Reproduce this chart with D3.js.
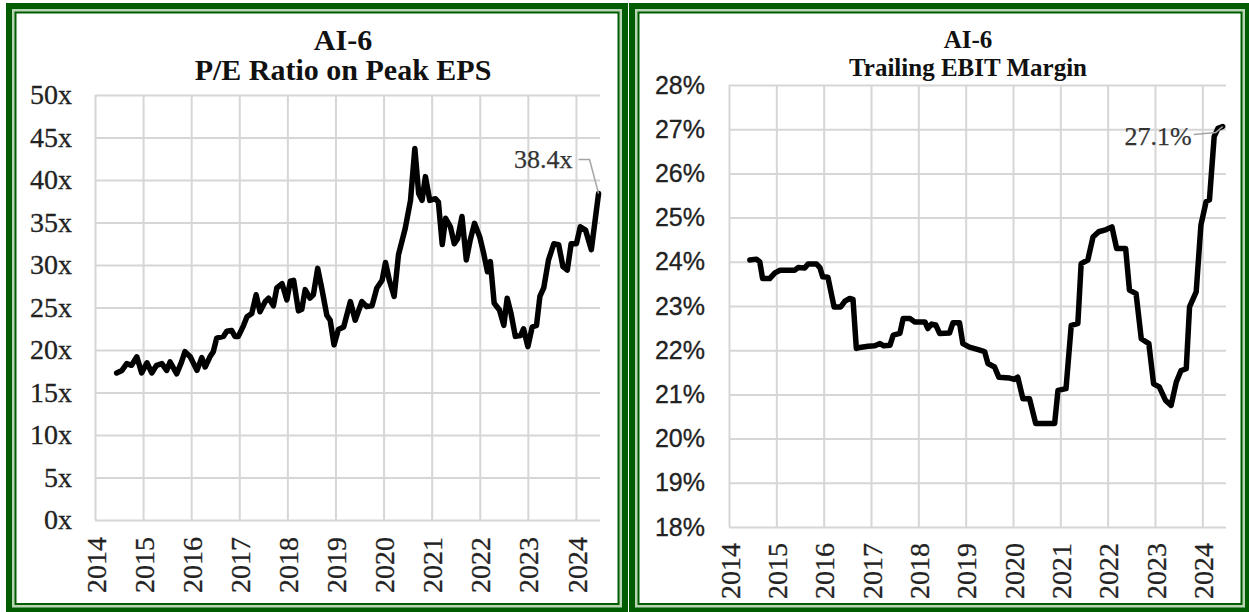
<!DOCTYPE html>
<html>
<head>
<meta charset="utf-8">
<script src="https://cdn.jsdelivr.net/npm/d3@7"></script>
<style>
  body { margin: 0; background: #fff; }
  svg { display: block; }
</style>
</head>
<body>
<div id="chart"></div>
<script>
// P/E ratio on peak EPS (left panel)
const peYears = [
  2014.45, 2014.56, 2014.66, 2014.76, 2014.87, 2014.97, 2015.08, 2015.18, 2015.28, 2015.39,
  2015.49, 2015.56, 2015.70, 2015.80, 2015.87, 2015.98, 2016.12, 2016.22, 2016.29, 2016.39,
  2016.46, 2016.53, 2016.67, 2016.74, 2016.84, 2016.91, 2016.98, 2017.09, 2017.16, 2017.26,
  2017.35, 2017.43, 2017.54, 2017.61, 2017.71, 2017.78, 2017.89, 2017.99, 2018.06, 2018.13,
  2018.23, 2018.30, 2018.37, 2018.47, 2018.54, 2018.63, 2018.72, 2018.82, 2018.89, 2018.97,
  2019.06, 2019.17, 2019.31, 2019.41, 2019.55, 2019.65, 2019.76, 2019.86, 2019.97, 2020.04,
  2020.12, 2020.22, 2020.31, 2020.45, 2020.56, 2020.65, 2020.73, 2020.80, 2020.87, 2020.96,
  2021.08, 2021.14, 2021.22, 2021.29, 2021.39, 2021.47, 2021.54, 2021.63, 2021.72, 2021.80,
  2021.89, 2022.00, 2022.08, 2022.16, 2022.22, 2022.30, 2022.41, 2022.50, 2022.57, 2022.65,
  2022.74, 2022.85, 2022.91, 2023.00, 2023.09, 2023.18, 2023.25, 2023.33, 2023.43, 2023.54,
  2023.64, 2023.73, 2023.82, 2023.90, 2024.01, 2024.09, 2024.20, 2024.32, 2024.47
];
const peValues = [
  17.3, 17.6, 18.4, 18.2, 19.2, 17.3, 18.5, 17.3, 18.2, 18.4,
  17.6, 18.6, 17.2, 18.6, 19.8, 19.2, 17.6, 19.1, 18.0, 19.2,
  19.8, 21.4, 21.6, 22.2, 22.3, 21.6, 21.6, 22.9, 23.9, 24.3,
  26.5, 24.5, 25.7, 26.1, 25.2, 27.3, 27.8, 25.9, 28.1, 28.2,
  24.6, 24.8, 27.1, 26.1, 26.5, 29.6, 27.1, 24.1, 23.5, 20.6,
  22.4, 22.7, 25.7, 23.5, 25.7, 25.1, 25.2, 27.3, 28.2, 30.3,
  28.2, 26.3, 31.2, 34.3, 37.6, 43.7, 38.4, 37.6, 40.4, 37.6,
  37.8, 37.4, 32.4, 35.5, 34.5, 32.5, 33.1, 35.7, 30.6, 32.9,
  34.9, 33.3, 31.4, 29.2, 30.4, 25.5, 24.7, 22.9, 26.1, 24.3,
  21.6, 21.7, 22.5, 20.4, 22.7, 22.9, 26.3, 27.3, 30.6, 32.5,
  32.4, 29.8, 29.4, 32.5, 32.5, 34.5, 34.1, 31.8, 38.4
];

// trailing EBIT margin in % (right panel)
const marginYears = [
  2014.44, 2014.58, 2014.65, 2014.71, 2014.86, 2014.97, 2015.08, 2015.39, 2015.46, 2015.60,
  2015.67, 2015.85, 2015.92, 2015.98, 2016.09, 2016.22, 2016.36, 2016.45, 2016.55, 2016.62,
  2016.69, 2016.76, 2016.94, 2017.08, 2017.19, 2017.27, 2017.40, 2017.47, 2017.61, 2017.68,
  2017.82, 2017.92, 2018.14, 2018.20, 2018.28, 2018.37, 2018.45, 2018.66, 2018.73, 2018.87,
  2018.94, 2019.08, 2019.30, 2019.40, 2019.47, 2019.61, 2019.70, 2019.93, 2020.03, 2020.10,
  2020.21, 2020.35, 2020.48, 2020.88, 2020.95, 2021.12, 2021.23, 2021.37, 2021.44, 2021.58,
  2021.69, 2021.81, 2021.97, 2022.09, 2022.19, 2022.38, 2022.46, 2022.60, 2022.71, 2022.87,
  2022.97, 2023.09, 2023.22, 2023.34, 2023.45, 2023.55, 2023.66, 2023.73, 2023.87, 2023.97,
  2024.08, 2024.15, 2024.25, 2024.33, 2024.43
];
const marginValues = [
  24.04, 24.06, 24.00, 23.62, 23.62, 23.75, 23.81, 23.81, 23.87, 23.86,
  23.95, 23.95, 23.87, 23.66, 23.65, 22.98, 22.98, 23.11, 23.17, 23.15,
  22.04, 22.06, 22.09, 22.10, 22.15, 22.10, 22.11, 22.34, 22.38, 22.72,
  22.72, 22.64, 22.64, 22.49, 22.59, 22.57, 22.38, 22.39, 22.62, 22.62,
  22.15, 22.07, 22.00, 21.97, 21.70, 21.62, 21.39, 21.37, 21.34, 21.39,
  20.90, 20.90, 20.34, 20.34, 21.09, 21.13, 22.56, 22.60, 23.96, 24.04,
  24.56, 24.68, 24.73, 24.79, 24.30, 24.30, 23.36, 23.28, 22.26, 22.15,
  21.24, 21.17, 20.87, 20.75, 21.28, 21.54, 21.58, 22.98, 23.32, 24.83,
  25.36, 25.40, 26.83, 27.02, 27.06
];

const yearTicks = [2014, 2015, 2016, 2017, 2018, 2019, 2020, 2021, 2022, 2023, 2024];
const peTicks = [0, 5, 10, 15, 20, 25, 30, 35, 40, 45, 50];
const marginTicks = [18, 19, 20, 21, 22, 23, 24, 25, 26, 27, 28];

const W = 1249, H = 612;
const DARK = "#005c00", LIGHT = "#b9d5b5";
const SERIF = "'Liberation Serif', 'Times New Roman', serif";
const SANS = "'Liberation Sans', Arial, sans-serif";

const svg = d3.select("#chart").append("svg")
  .attr("width", W)
  .attr("height", H);

svg.append("rect").attr("width", W).attr("height", H).attr("fill", "#fff");

// double green frame around a panel
function drawFrame(x0, y0, x1, y1) {
  const g = svg.append("g");
  const layers = [[0, DARK], [6, LIGHT], [8.5, DARK], [10.5, "#fff"]];
  layers.forEach(([inset, color]) => {
    g.append("rect")
      .attr("x", x0 + inset).attr("y", y0 + inset)
      .attr("width", x1 - x0 - 2 * inset).attr("height", y1 - y0 - 2 * inset)
      .attr("fill", color);
  });
}

function drawPanel(p) {
  const x = d3.scaleLinear().domain([2014, 2024.5]).range([p.left, p.right]);
  const y = d3.scaleLinear().domain(p.yDomain).range([p.bottom, p.top]);
  const plotW = p.right - p.left, plotH = p.bottom - p.top;
  const g = svg.append("g");

  // horizontal grid + y labels
  const yAxis = g.append("g")
    .attr("transform", "translate(" + p.left + ",0)")
    .call(d3.axisLeft(y).tickValues(p.yTicks).tickFormat(p.yFormat)
      .tickSize(-plotW).tickPadding(p.yPad));
  yAxis.select(".domain").remove();
  yAxis.selectAll("line").attr("stroke", "#d6d6d6").attr("stroke-width", 2);
  yAxis.selectAll("text")
    .attr("font-family", p.yFont).attr("font-size", p.ySize)
    .attr("fill", "#222").attr("stroke", "#222").attr("stroke-width", 0.3);

  // vertical grid + rotated year labels
  const xAxis = g.append("g")
    .attr("transform", "translate(0," + p.bottom + ")")
    .call(d3.axisBottom(x).tickValues(yearTicks).tickFormat(d3.format("d"))
      .tickSize(-plotH));
  xAxis.select(".domain").remove();
  xAxis.selectAll("line").attr("stroke", "#d6d6d6").attr("stroke-width", 2);
  xAxis.selectAll("text")
    .attr("transform", "rotate(-90)")
    .attr("text-anchor", "end")
    .attr("x", -p.xPad).attr("y", 0).attr("dy", "0.36em")
    .attr("font-family", SERIF).attr("font-size", 28)
    .attr("fill", "#222").attr("stroke", "#222").attr("stroke-width", 0.3);

  // titles
  p.title.forEach((t, i) => {
    g.append("text")
      .attr("x", p.titleX).attr("y", p.titleY[i])
      .attr("text-anchor", "middle")
      .attr("font-family", SERIF).attr("font-weight", "bold").attr("font-size", p.titleSize)
      .attr("fill", "#111")
      .text(t);
  });

  const data = p.years.map((t, i) => ({ t: t, v: p.values[i] }));
  const line = d3.line().x(d => x(d.t)).y(d => y(d.v));

  g.append("path")
    .datum(data)
    .attr("d", line)
    .attr("fill", "none")
    .attr("stroke", "#000")
    .attr("stroke-width", 5.5)
    .attr("stroke-linejoin", "round")
    .attr("stroke-linecap", "round");

  // label on the last point with a leader line
  const last = data[data.length - 1];
  const lx = x(last.t), ly = y(last.v);
  g.append("path")
    .attr("d", d3.line()(p.leader.map(o => [lx + o[0], ly + o[1]])))
    .attr("fill", "none")
    .attr("stroke", "#a5a5a5")
    .attr("stroke-width", 1.5);
  g.append("text")
    .attr("x", lx + p.labelOff[0]).attr("y", ly + p.labelOff[1])
    .attr("text-anchor", "end")
    .attr("font-family", SERIF).attr("font-size", 26)
    .attr("fill", "#333").attr("stroke", "#333").attr("stroke-width", 0.25)
    .text(p.labelFormat(last.v));
}

drawFrame(6, 3, 628, 613.5);
drawFrame(629, 3, 1251, 613.5);

drawPanel({
  left: 95, right: 600, top: 95, bottom: 520,
  yDomain: [0, 50], yTicks: peTicks, yFormat: d => d + "x",
  yFont: SERIF, ySize: 28, yPad: 23, xPad: 17,
  title: ["AI-6", "P/E Ratio on Peak EPS"], titleX: 343, titleY: [50, 80], titleSize: 30,
  years: peYears, values: peValues,
  leader: [[-20, -34], [-9, -34], [0, 0]],
  labelOff: [-26, -26],
  labelFormat: v => v.toFixed(1) + "x"
});

drawPanel({
  left: 729, right: 1226, top: 85, bottom: 527,
  yDomain: [18, 28], yTicks: marginTicks, yFormat: d => d + "%",
  yFont: SANS, ySize: 25, yPad: 24, xPad: 16,
  title: ["AI-6", "Trailing EBIT Margin"], titleX: 968, titleY: [48, 76], titleSize: 25,
  years: marginYears, values: marginValues,
  leader: [[-29, 8], [-7, 6], [0, 0]],
  labelOff: [-31, 18],
  labelFormat: v => v.toFixed(1) + "%"
});
</script>
</body>
</html>
